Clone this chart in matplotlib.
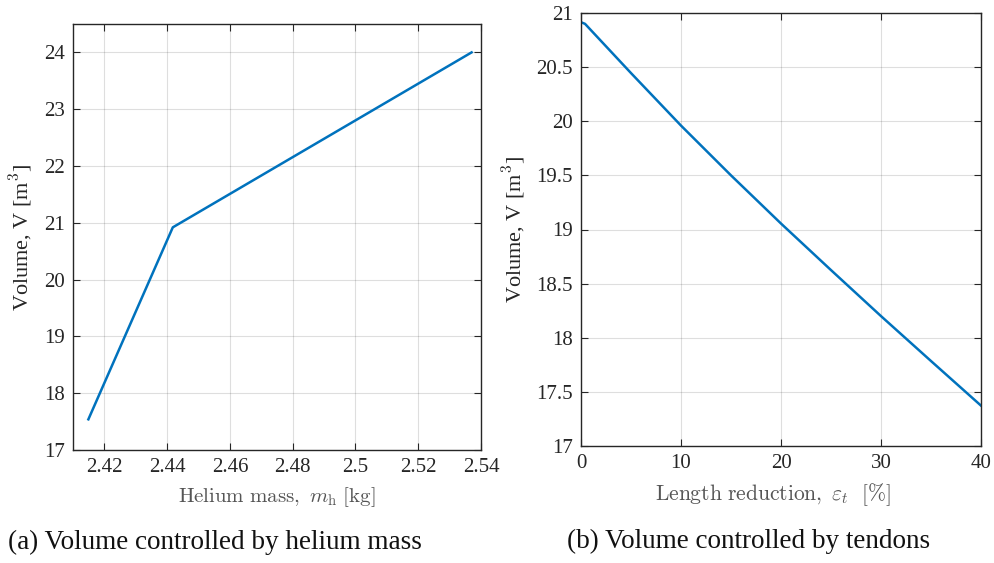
import matplotlib
matplotlib.use("Agg")
import matplotlib.pyplot as plt

# Left panel: volume vs helium mass
mass_kg = [2.4149, 2.4418, 2.537]
vol_a = [17.54, 20.92, 24.0]

# Right panel: volume vs length reduction
eps_pct = [0, 0.4, 5, 10, 15, 20, 25, 30, 35, 40]
vol_b = [20.915, 20.90, 20.445, 19.96, 19.50, 19.055, 18.625, 18.2, 17.785, 17.373]

xticks_a = [2.42, 2.44, 2.46, 2.48, 2.5, 2.52, 2.54]
xticklabels_a = ["2.42", "2.44", "2.46", "2.48", "2.5", "2.52", "2.54"]
yticks_a = [17, 18, 19, 20, 21, 22, 23, 24]
xticks_b = [0, 10, 20, 30, 40]
yticks_b = [17, 17.5, 18, 18.5, 19, 19.5, 20, 20.5, 21]
yticklabels_b = ["17", "17.5", "18", "18.5", "19", "19.5", "20", "20.5", "21"]

plt.rcParams['font.family'] = ['Liberation Serif', 'DejaVu Serif']
plt.rcParams['mathtext.fontset'] = 'cm'

W, H = 994, 563
fig = plt.figure(figsize=(W/100, H/100), dpi=100)

axc = '#262626'
line_c = '#0072BD'

def style(ax):
    for s in ax.spines.values():
        s.set_color(axc)
        s.set_linewidth(1.0)
    ax.tick_params(direction='in', top=True, right=True, length=5, width=0.8,
                   color=axc, labelsize=15, labelcolor=axc, pad=6)
    ax.grid(True, color='#000000', alpha=0.13, linewidth=0.8)
    ax.set_axisbelow(True)

ax1 = fig.add_axes([73/W, 1-450/H, (481-73)/W, (450-24)/H])
ax1.plot(mass_kg, vol_a, color=line_c, linewidth=1.8)
ax1.set_xlim(2.41, 2.54)
ax1.set_ylim(17, 24.5)
ax1.set_xticks(xticks_a)
ax1.set_xticklabels(xticklabels_a)
ax1.set_yticks(yticks_a)
style(ax1)
ax1.set_ylabel(r'Volume, V [m$^3$]', fontsize=16, color=axc, labelpad=6)
ax1.set_xlabel(r'$\mathrm{Helium\ mass,}\ m_{\mathrm{h}}\ [\mathrm{kg}]$', fontsize=15, color='#555555', labelpad=6)

ax2 = fig.add_axes([581/W, 1-446/H, (981-581)/W, (446-13)/H])
ax2.plot(eps_pct, vol_b, color=line_c, linewidth=1.8)
ax2.set_xlim(0, 40)
ax2.set_ylim(17, 21)
ax2.set_xticks(xticks_b)
ax2.set_yticks(yticks_b)
ax2.set_yticklabels(yticklabels_b)
style(ax2)
ax2.set_ylabel(r'Volume, V [m$^3$]', fontsize=16, color=axc, labelpad=6)
ax2.set_xlabel(r'$\mathrm{Length\ reduction,}\ \varepsilon_t\ \ [\%]$', fontsize=15.5, color='#555555')
ax2.xaxis.set_label_coords(0.48, -0.082)

fig.text(8/W, 1-542/H, '(a) Volume controlled by helium mass', fontsize=19.5, va='center', ha='left', color='#111111')
fig.text(567/W, 1-541/H, '(b) Volume controlled by tendons', fontsize=19.5, va='center', ha='left', color='#111111')

fig.savefig('out.png', dpi=100)
